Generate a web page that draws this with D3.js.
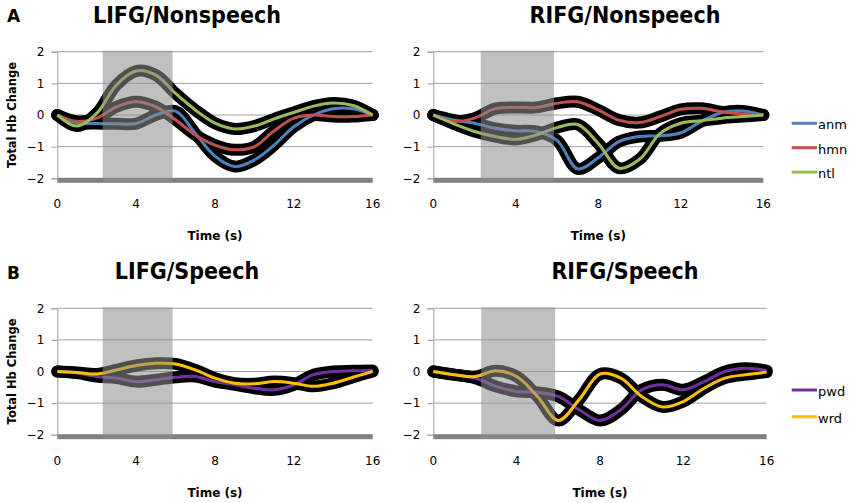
<!DOCTYPE html>
<html>
<head>
<meta charset="utf-8">
<script src="https://cdn.jsdelivr.net/npm/d3@7"></script>
<style>
  body { margin: 0; background: #fff; }
  svg { display: block; font-family: "DejaVu Sans", Verdana, sans-serif; }
</style>
</head>
<body>
<svg id="chart" width="851" height="503"></svg>
<script>
// time axis (s) and ticks
const timeSec = [0, 1, 2, 3, 4, 5, 6, 7, 8, 9, 10, 11, 12, 13, 14, 15, 16];
const xTicks = [0, 4, 8, 12, 16];
const yTicks = [2, 1, 0, -1, -2];
const stimWindow = [2.3, 5.85];

// LIFG / Nonspeech
const anmLN = [0, -0.25, -0.27, -0.28, -0.27, 0, 0.12, -0.58, -1.3, -1.63, -1.42, -0.95, -0.37, 0, 0.2, 0.2, 0];
const hmnLN = [0, -0.2, -0.1, 0.26, 0.42, 0.26, -0.15, -0.63, -0.95, -1.1, -1.0, -0.5, -0.1, 0, -0.05, -0.05, 0];
const ntlLN = [0, -0.35, 0.05, 0.95, 1.39, 1.26, 0.68, 0.16, -0.26, -0.44, -0.35, -0.12, 0.08, 0.28, 0.38, 0.3, 0];

// RIFG / Nonspeech
const anmRN = [0, -0.16, -0.26, -0.42, -0.5, -0.52, -0.8, -1.7, -1.35, -0.84, -0.68, -0.66, -0.56, -0.2, 0.08, 0.13, 0];
const hmnRN = [0, -0.2, -0.1, 0.2, 0.24, 0.24, 0.37, 0.42, 0.16, -0.16, -0.24, -0.05, 0.18, 0.21, 0.1, 0.03, 0];
const ntlRN = [0, -0.28, -0.52, -0.68, -0.77, -0.63, -0.4, -0.3, -0.9, -1.68, -1.4, -0.58, -0.26, -0.18, -0.1, -0.05, 0];

// LIFG / Speech
const pwdLS = [0, -0.05, -0.16, -0.21, -0.32, -0.26, -0.18, -0.16, -0.32, -0.42, -0.53, -0.58, -0.42, -0.1, 0, 0.02, 0.03];
const wrdLS = [0, -0.03, -0.08, 0.05, 0.19, 0.26, 0.24, 0.05, -0.21, -0.37, -0.39, -0.32, -0.37, -0.47, -0.37, -0.18, 0];

// RIFG / Speech
const pwdRS = [0, -0.1, -0.21, -0.47, -0.63, -0.66, -0.79, -1.21, -1.55, -1.21, -0.58, -0.42, -0.58, -0.32, 0, 0.1, 0.03];
const wrdRS = [0, -0.1, -0.16, 0.02, -0.16, -0.79, -1.55, -0.89, -0.08, -0.21, -0.79, -1.12, -0.95, -0.53, -0.21, -0.1, -0.02];

const colors = { anm: "#4f81bd", hmn: "#c0504d", ntl: "#9bbb59", pwd: "#7030a0", wrd: "#ffc000" };

const panels = [
  { title: "LIFG/Nonspeech", letter: "A", titleX: 187, left: 57.3, right: 372.7, top: 51.7, bottom: 178.3, yLabel: true,
    series: [["anm", anmLN], ["hmn", hmnLN], ["ntl", ntlLN]] },
  { title: "RIFG/Nonspeech", titleX: 625, left: 433.3, right: 763.3, top: 51.7, bottom: 178.3, legend: [123.3, 24.4],
    series: [["anm", anmRN], ["hmn", hmnRN], ["ntl", ntlRN]] },
  { title: "LIFG/Speech", letter: "B", titleX: 187, left: 57.3, right: 372.7, top: 308.3, bottom: 434.7, yLabel: true,
    series: [["pwd", pwdLS], ["wrd", wrdLS]] },
  { title: "RIFG/Speech", titleX: 625, left: 433.3, right: 766.7, top: 308.3, bottom: 434.7, legend: [390, 26.7],
    series: [["pwd", pwdRS], ["wrd", wrdRS]] }
];

const svg = d3.select("#chart");

function drawPanel(p) {
  const g = svg.append("g");
  const x = d3.scaleLinear().domain([0, 16]).range([p.left, p.right]);
  const y = d3.scaleLinear().domain([-2, 2]).range([p.bottom, p.top]);

  // title
  g.append("text")
    .attr("x", p.titleX).attr("y", p.top - 29)
    .attr("text-anchor", "middle")
    .style("font-family", "'DejaVu Sans Condensed', 'DejaVu Sans', sans-serif")
    .style("font-size", "23px").style("font-weight", "bold")
    .text(p.title);
  if (p.letter) {
    g.append("text").attr("x", 7).attr("y", p.top - 29.5)
      .style("font-size", "17px").style("font-weight", "bold")
      .text(p.letter);
  }

  // gridlines
  g.selectAll(".grid").data(yTicks.filter(d => d > -2)).enter().append("line")
    .attr("x1", p.left).attr("x2", p.right)
    .attr("y1", d => y(d)).attr("y2", d => y(d))
    .attr("stroke", "#a0a0a0").attr("stroke-width", 1);

  // y axis
  let yAxis = d3.axisLeft(y).tickValues(yTicks).tickSize(6).tickPadding(7).tickFormat(d3.format("d"));
  let ya = g.append("g").attr("transform", `translate(${p.left},0)`).call(yAxis);
  ya.select(".domain").attr("stroke", "#a0a0a0");
  ya.selectAll(".tick line").attr("stroke", "#a0a0a0");
  ya.selectAll(".tick text").style("font-size", "12px").attr("fill", "#000")
    .style("font-family", "DejaVu Sans");

  // baseline bar at -2
  g.append("rect")
    .attr("x", p.left).attr("y", y(-2) - 0.5)
    .attr("width", p.right - p.left).attr("height", 5)
    .attr("fill", "#808080");

  // x tick labels
  g.selectAll(".xt").data(xTicks).enter().append("text")
    .attr("x", d => x(d)).attr("y", p.bottom + 30)
    .attr("text-anchor", "middle")
    .style("font-size", "12px")
    .text(d => d);

  g.append("text")
    .attr("x", (p.left + p.right) / 2).attr("y", p.bottom + 62)
    .attr("text-anchor", "middle")
    .style("font-size", "12px").style("font-weight", "bold")
    .text("Time (s)");

  if (p.yLabel) {
    g.append("text")
      .attr("transform", `translate(16,${y(0)}) rotate(-90)`)
      .attr("text-anchor", "middle")
      .style("font-size", "11.5px").style("font-weight", "bold")
      .text("Total Hb Change");
  }

  let line = d3.line()
    .x((d, i) => x(timeSec[i]))
    .y(d => y(d))
    .curve(d3.curveCatmullRom.alpha(0.5));

  // black outlines first, coloured traces on top
  p.series.forEach(s => {
    g.append("path").datum(s[1]).attr("d", line)
      .attr("fill", "none").attr("stroke", "#000").attr("stroke-width", 12)
      .attr("stroke-linejoin", "round").attr("stroke-linecap", "round");
  });
  p.series.forEach(s => {
    g.append("path").datum(s[1]).attr("d", line)
      .attr("fill", "none").attr("stroke", colors[s[0]]).attr("stroke-width", 3);
  });

  // stimulus window overlay
  g.append("rect")
    .attr("x", x(stimWindow[0])).attr("y", p.top - 1)
    .attr("width", x(stimWindow[1]) - x(stimWindow[0]))
    .attr("height", p.bottom - p.top + 5)
    .attr("fill", "#8e8e8e").attr("fill-opacity", 0.56);

  if (p.legend) {
    const lg = g.append("g");
    p.series.forEach((s, i) => {
      const ly = p.legend[0] + i * p.legend[1];
      lg.append("line").attr("x1", 791.7).attr("x2", 817).attr("y1", ly).attr("y2", ly)
        .attr("stroke", colors[s[0]]).attr("stroke-width", 3);
      lg.append("text").attr("x", 818).attr("y", ly + 6)
        .style("font-size", "13px").text(s[0]);
    });
  }
}

panels.forEach(drawPanel);
</script>
</body>
</html>
